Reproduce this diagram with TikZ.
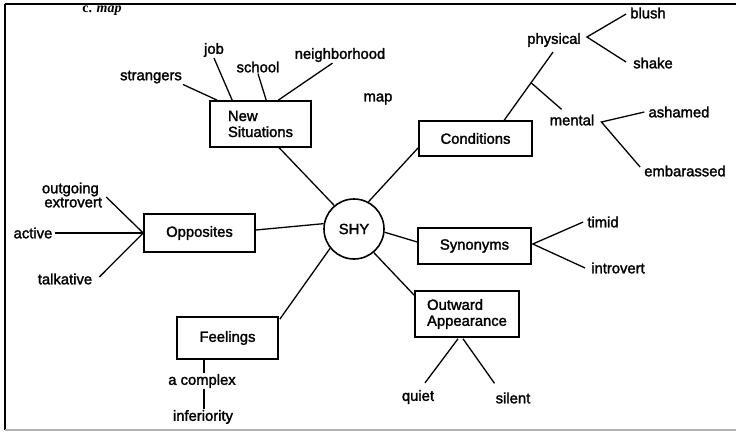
\documentclass[tikz,border=0pt]{standalone}
\usepackage{fontspec}
\setmainfont{Liberation Sans}[FakeBold=1.8]
\newfontfamily\serifmap{Liberation Serif}
\usetikzlibrary{calc}
\begin{document}
\begin{tikzpicture}[x=1pt,y=-1pt,
  lbl/.style={inner sep=1pt,font=\fontsize{14.8}{16}\selectfont},
  box/.style={draw,line width=1.6pt,inner sep=0pt,font=\fontsize{14.8}{16}\selectfont,align=left},
  con/.style={line width=1.3pt}]
\useasboundingbox (0,0) rectangle (736,431);
% frame
\draw[line width=2pt] (5,4) -- (736,4);
\draw[line width=2pt] (5,4) -- (5,430);
\draw[line width=1.5pt,gray!60] (5,430) -- (736,430);

\node[font=\serifmap\fontsize{14}{14}\selectfont,inner sep=0pt] (title) at (102,11) {\textbf{c.} \textbf{\textit{map}}};

% centre
\node[draw,circle,line width=1.6pt,minimum size=60pt,inner sep=0pt,font=\fontsize{14.8}{16}\selectfont] (shy) at (354,229) {SHY};

% boxes
\node[box,minimum width=101pt,minimum height=46pt] (ns) at (260.5,124) {New\\Situations};
\node[box,minimum width=113pt,minimum height=35pt] (cond) at (475.5,138.5) {Conditions};
\node[box,minimum width=111pt,minimum height=38pt] (opp) at (199.5,233) {Opposites};
\node[box,minimum width=101pt,minimum height=42pt] (feel) at (227.5,338) {Feelings};
\node[box,minimum width=113pt,minimum height=36pt] (syn) at (474.5,246) {Synonyms};
\node[box,minimum width=104pt,minimum height=46pt] (out) at (467,314) {Outward\\Appearance};

% labels
\node[lbl] (str) at (151,77) {strangers};
\node[lbl] (job) at (214,50) {job};
\node[lbl] (school) at (258,67) {school};
\node[lbl] (neigh) at (340,55) {neighborhood};
\node[lbl] (map) at (378,99) {map};
\node[lbl] (phys) at (554,40) {physical};
\node[lbl] (blush) at (648,13) {blush};
\node[lbl] (shake) at (653,63) {shake};
\node[lbl] (mental) at (572,120) {mental};
\node[lbl] (ash) at (679,112) {ashamed};
\node[lbl] (emb) at (685,171) {embarassed};
\node[lbl,align=left,font=\fontsize{14.8}{14}\selectfont] (outg) at (72,195) {outgoing\\\,extrovert};
\node[lbl] (active) at (33,233) {active};
\node[lbl] (talk) at (65,279) {talkative};
\node[lbl] (acomp) at (202,381) {a complex};
\node[lbl] (infer) at (203,417) {inferiority};
\node[lbl] (timid) at (603,222) {timid};
\node[lbl] (intro) at (618,268) {introvert};
\node[lbl] (quiet) at (418,397) {quiet};
\node[lbl] (silent) at (513,398) {silent};

% connectors: New Situations
\draw[con] (str.south east) -- ($(ns.north west)+(8,0)$);
\draw[con] (job.south) -- ($(ns.north west)+(23,0)$);
\draw[con] (school.south) -- ($(ns.north west)+(57,0)$);
\draw[con] ($(neigh.south west)+(39,0)$) -- ($(ns.north west)+(69,0)$);
\draw[con] ($(ns.south west)+(70,0)$) -- (shy.130);

% Conditions
\draw[con] (shy.62) -- ($(cond.south west)+(0,-9)$);
\draw[con] ($(cond.north west)+(86,0)$) coordinate (cb) -- ($(phys.south)+(-1,4)$) coordinate (pt);
\draw[con] ($(cb)!0.55!(pt)$) -- ($(mental.north west)+(13,-4)$);
\draw[con] ($(blush.west)+(-3,1)$) -- ($(phys.east)+(5,-3)$) -- ($(shake.west)+(-6,-1)$);
\draw[con] ($(ash.west)+(-3,0)$) -- ($(mental.east)+(6,2)$) -- ($(emb.west)+(-3,-4)$);

% Opposites
\draw[con] ($(outg.east)+(3,2)$) -- (opp.west);
\draw[con] ($(active.east)+(1,0)$) -- (opp.west);
\draw[con] ($(talk.east)+(6,-2)$) -- (opp.west);
\draw[con] ($(opp.east)+(0,-3)$) -- (shy.170);

% Feelings
\draw[con] ($(feel.north east)+(1,3)$) -- (shy.219);
\draw[con] ($(feel.south)+(-23.5,0)$) -- ($(acomp.north)+(2,0)$);
\draw[con] ($(acomp.south)+(2,0)$) -- ($(infer.north)+(1,0)$);

% Synonyms
\draw[con] (shy.-6) -- ($(syn.west)+(0,-4)$);
\draw[con] ($(timid.west)+(-3,0)$) -- ($(syn.east)+(1,-2)$) -- ($(intro.west)+(-5,0)$);

% Outward Appearance
\draw[con] (shy.-50) -- ($(out.north west)+(0,5)$);
\draw[con] ($(out.south)+(-9,1)$) -- ($(quiet.north)+(7,-6)$);
\draw[con] ($(out.south)+(-4,1)$) -- ($(silent.north west)+(0,-8)$);
\end{tikzpicture}
\end{document}
